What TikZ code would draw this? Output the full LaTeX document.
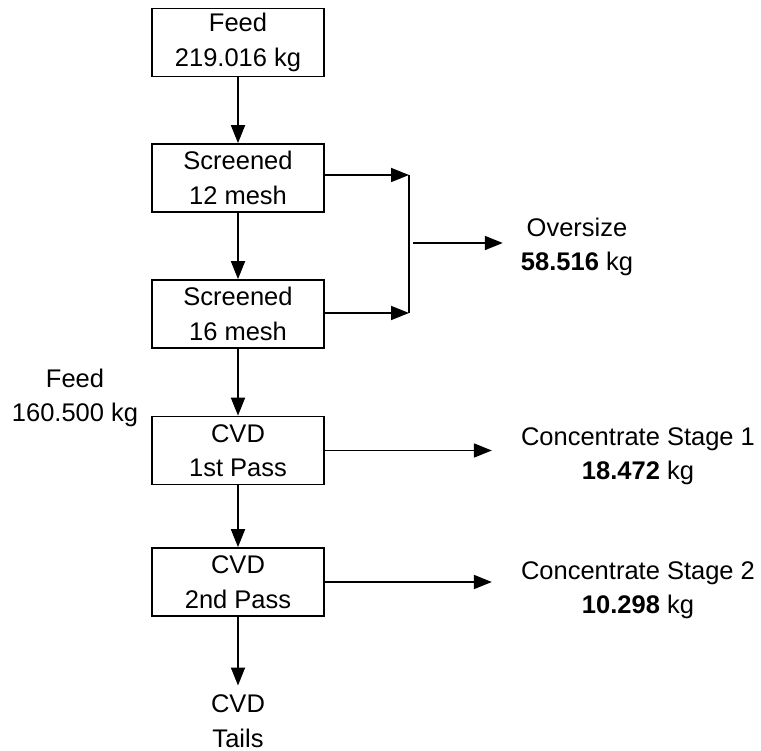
\documentclass[tikz,border=0pt]{standalone}
\usepackage{fontspec}
\setmainfont{Liberation Sans}
\usetikzlibrary{arrows.meta}
\begin{document}
\begin{tikzpicture}[x=1pt,y=-1pt,
  unit/.style={draw, line width=1.7pt, minimum width=172pt, minimum height=68pt,
    inner sep=0pt, align=center, font=\fontsize{25.5}{34.5}\selectfont},
  lbl/.style={inner sep=0pt, align=center, font=\fontsize{25.5}{34.5}\selectfont},
  flow/.style={line width=1.8pt, -{Triangle[length=18pt,width=14pt]}},
  bus/.style={line width=1.8pt}]
\useasboundingbox (0,0) rectangle (761,751);

% process units
\node[unit] (feed) at (238,42.5) {Feed\\219.016 kg};
\node[unit] (s12)  at (238,178)  {Screened\\12 mesh};
\node[unit] (s16)  at (238,314)  {Screened\\16 mesh};
\node[unit] (cvd1) at (238,450.5){CVD\\1st Pass};
\node[unit] (cvd2) at (238,582)  {CVD\\2nd Pass};

% stream labels
\node[lbl] (feedin) at (75,398)   {Feed\\160.500 kg};
\node[lbl] (over)   at (577,247)  {Oversize\\\textbf{58.516} kg};
\node[lbl] (conc1)  at (638,456)  {Concentrate Stage 1\\\textbf{18.472} kg};
\node[lbl] (conc2)  at (638,590)  {Concentrate Stage 2\\\textbf{10.298} kg};
\node[lbl] (tails)  at (238,721)  {CVD\\Tails};

% oversize collector
\coordinate (bustop) at (409,175);
\coordinate (busbot) at (409,313);
\coordinate (busout) at (413,243);

% main line
\draw[flow] (feed.south) -- (s12.north);
\draw[flow] (s12.south) -- (s16.north);
\draw[flow] (s16.south) -- (cvd1.north);
\draw[flow] (cvd1.south) -- (cvd2.north);
\draw[flow, shorten >=9pt] (cvd2.south) -- (tails.north);

% oversize streams
\draw[flow] ([yshift=3pt]s12.east) -- (bustop);
\draw[flow] (s16.east |- busbot) -- (busbot);
\draw[bus] (bustop) -- (busbot);
\draw[flow, shorten >=18pt] (busout) -- (busout -| over.west);

% concentrate streams
\draw[flow, shorten >=29pt] (cvd1.east) -- (cvd1.east -| conc1.west);
\draw[flow, shorten >=29pt] (cvd2.east) -- (cvd2.east -| conc2.west);
\end{tikzpicture}
\end{document}
